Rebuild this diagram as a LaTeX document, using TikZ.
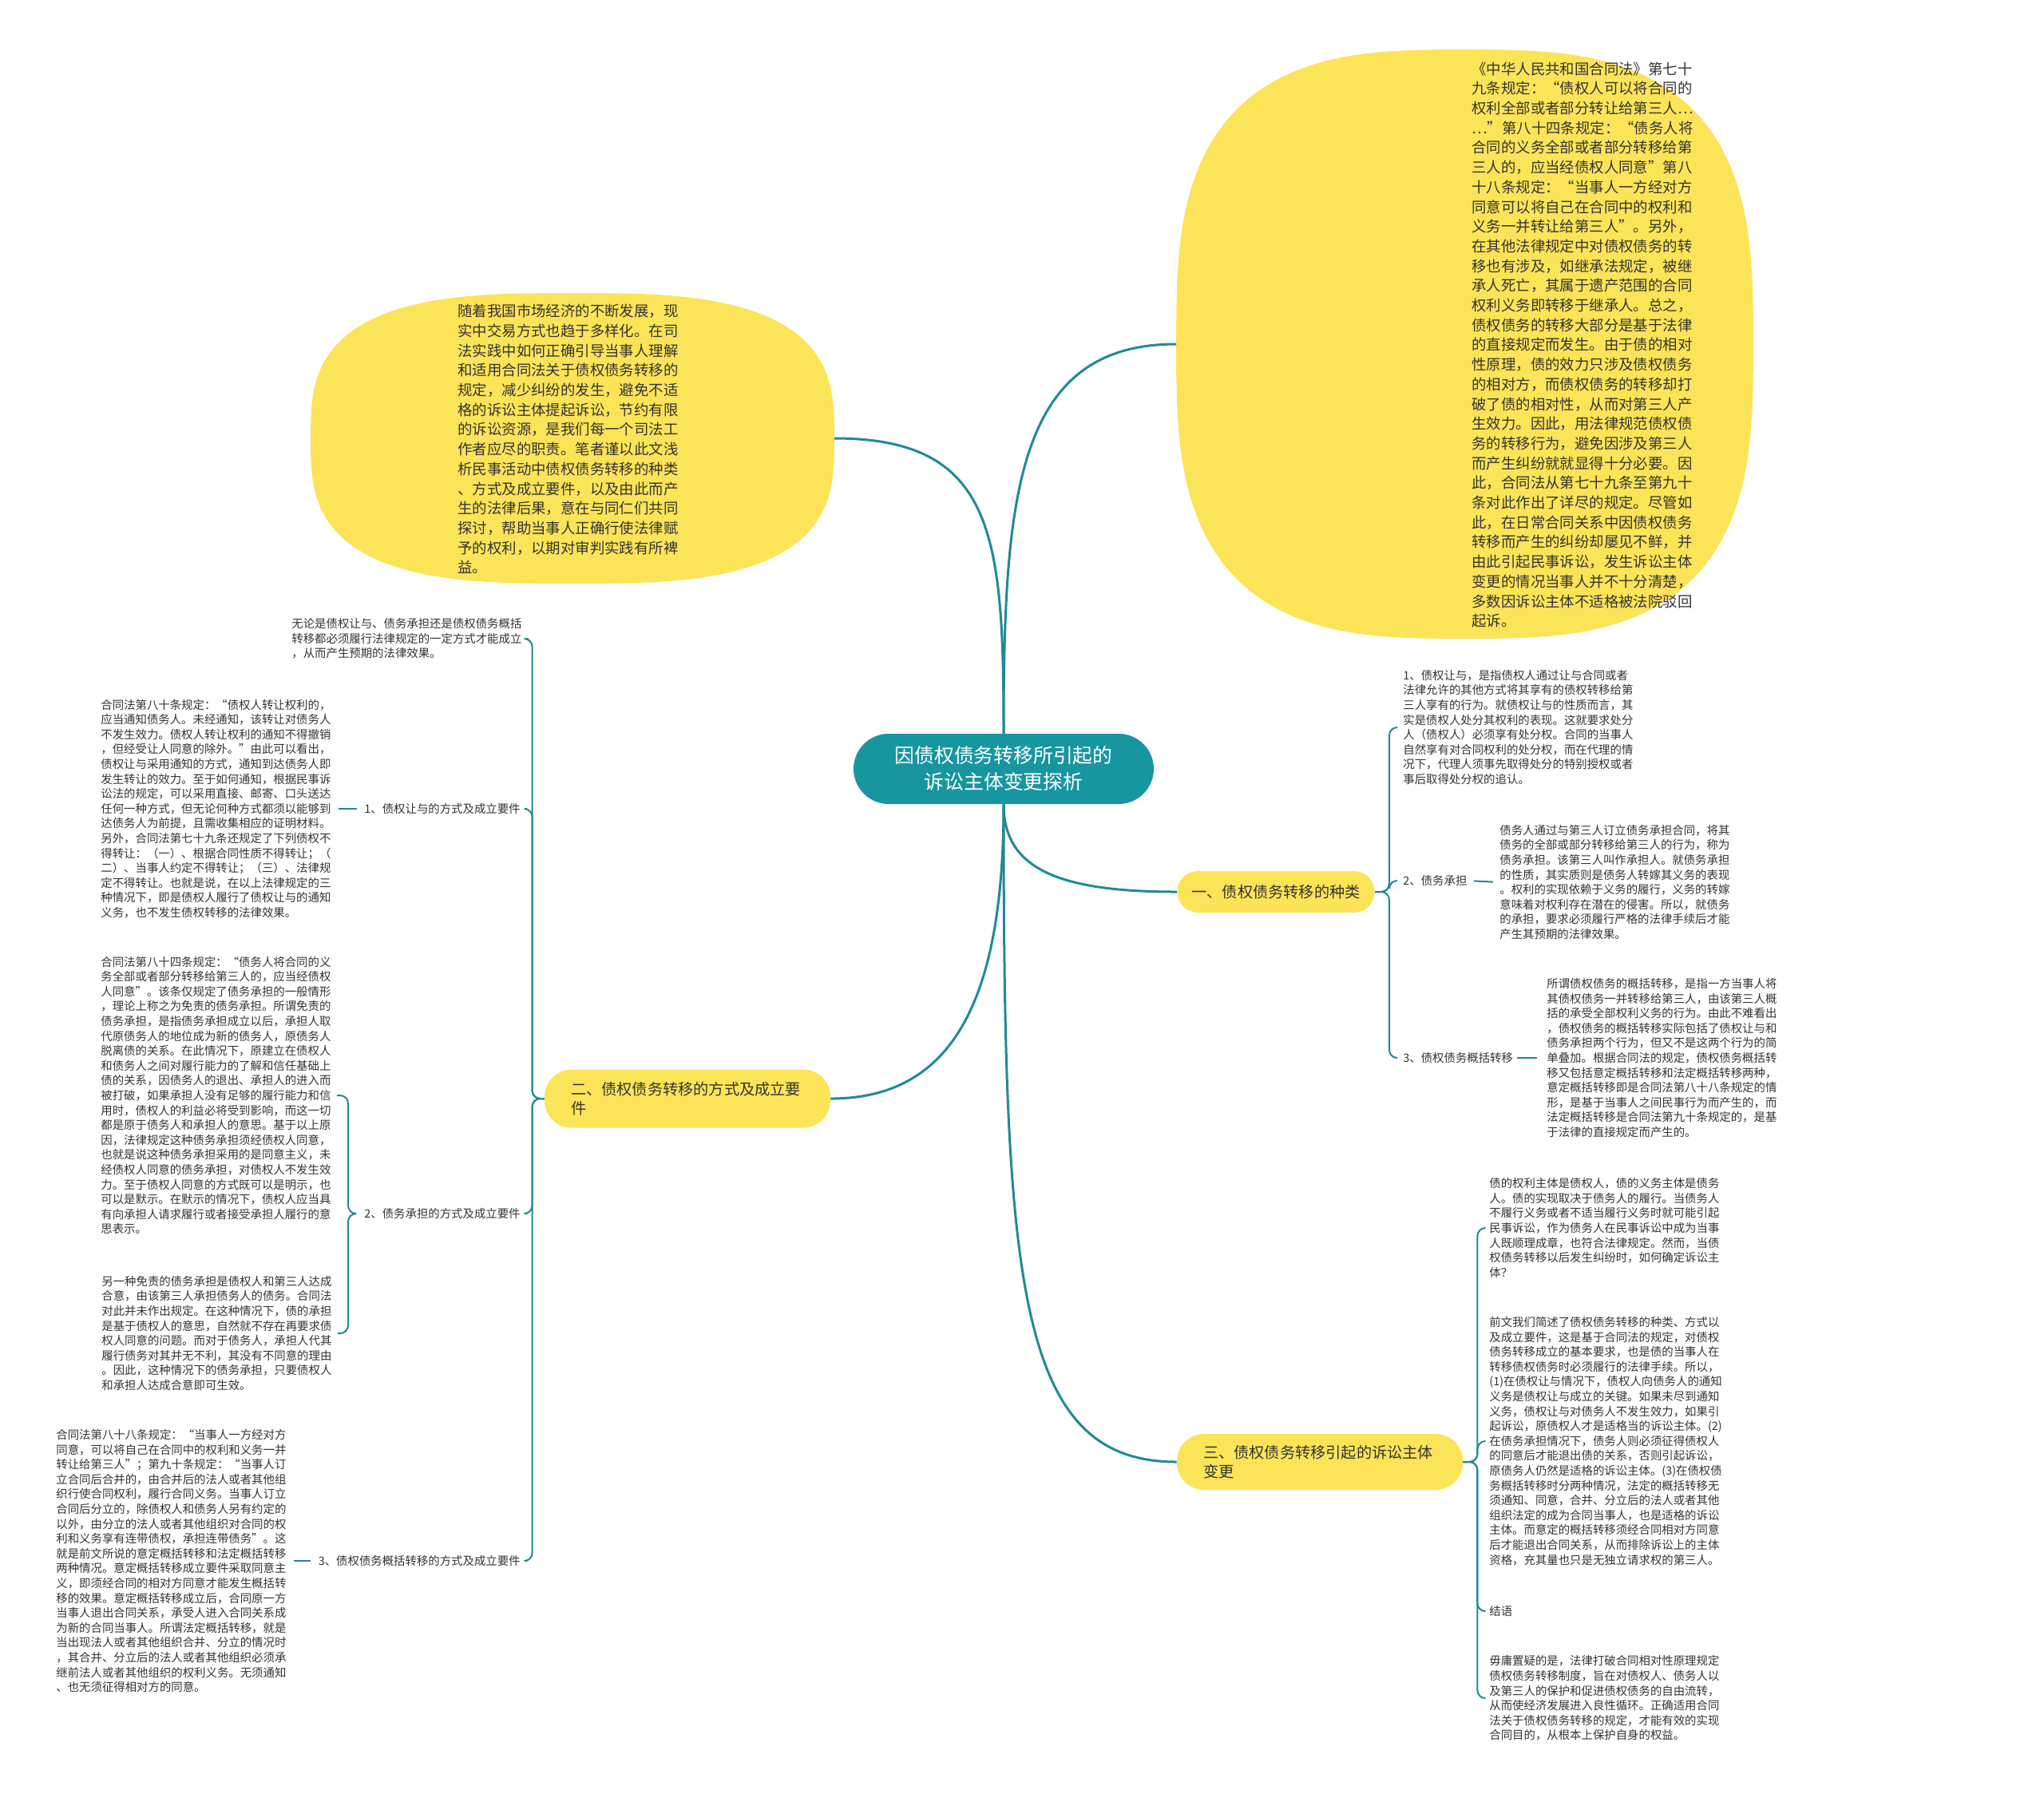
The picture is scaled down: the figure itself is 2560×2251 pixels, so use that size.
\documentclass[tikz,border=0pt]{standalone}
\usepackage{fontspec}
\setmainfont{Noto Sans CJK SC}
\definecolor{mapteal}{RGB}{24,150,160}
\definecolor{mapline}{RGB}{32,138,148}
\definecolor{mapyellow}{RGB}{252,228,88}
\definecolor{ink}{RGB}{51,51,51}
\tikzset{
  topic/.style={fill=mapteal, text=white, rounded corners=22pt, minimum width=188pt,
    minimum height=44pt, align=center, font=\fontsize{12.4}{16.5}\selectfont},
  branch/.style={fill=mapyellow, text=ink, rounded corners=13pt, inner xsep=9pt,
    minimum height=26pt, font=\fontsize{9.6}{12}\selectfont},
  bubble/.style={fill=mapyellow},
  bubbletext/.style={text=ink, align=left, inner sep=0pt, font=\fontsize{9.2}{12.35}\selectfont},
  leaf/.style={text=ink, align=left, inner sep=0pt, font=\fontsize{7.2}{9.3}\selectfont},
  mainlink/.style={draw=mapline, line width=1.5pt},
  twig/.style={draw=mapline, line width=1pt, rounded corners=5pt},
}
\begin{document}
\begin{tikzpicture}[x=0.5pt, y=-0.5pt]
  \fill[white] (0,0) rectangle (2560,2251);
  \useasboundingbox (0,0) rectangle (2560,2251);

  % the two bubbles
  \fill[bubble] plot[domain=0.5:360.5, samples=145]
    ({717+328*cos(\x)/(abs(cos(\x))^0.3333)}, {549+182*sin(\x)/(abs(sin(\x))^0.3333)}) -- cycle;
  \fill[bubble] plot[domain=0.5:360.5, samples=145]
    ({1834.5+361.5*cos(\x)/(abs(cos(\x))^0.3333)}, {431+369*sin(\x)/(abs(sin(\x))^0.3333)}) -- cycle;
  \coordinate (introedge) at (1045,549);
  \coordinate (lawedge) at (1473,431);

  \node[bubbletext, anchor=west] (intro) at (573,550) {随着我国市场经济的不断发展，现\\实中交易方式也趋于多样化。在司\\法实践中如何正确引导当事人理解\\和适用合同法关于债权债务转移的\\规定，减少纠纷的发生，避免不适\\格的诉讼主体提起诉讼，节约有限\\的诉讼资源，是我们每一个司法工\\作者应尽的职责。笔者谨以此文浅\\析民事活动中债权债务转移的种类\\、方式及成立要件，以及由此而产\\生的法律后果，意在与同仁们共同\\探讨，帮助当事人正确行使法律赋\\予的权利，以期对审判实践有所裨\\益。};
  \node[bubbletext, anchor=west] (law) at (1843,432) {《中华人民共和国合同法》第七十\\九条规定：“债权人可以将合同的\\权利全部或者部分转让给第三人…\\…”第八十四条规定：“债务人将\\合同的义务全部或者部分转移给第\\三人的，应当经债权人同意”第八\\十八条规定：“当事人一方经对方\\同意可以将自己在合同中的权利和\\义务一并转让给第三人”。另外，\\在其他法律规定中对债权债务的转\\移也有涉及，如继承法规定，被继\\承人死亡，其属于遗产范围的合同\\权利义务即转移于继承人。总之，\\债权债务的转移大部分是基于法律\\的直接规定而发生。由于债的相对\\性原理，债的效力只涉及债权债务\\的相对方，而债权债务的转移却打\\破了债的相对性，从而对第三人产\\生效力。因此，用法律规范债权债\\务的转移行为，避免因涉及第三人\\而产生纠纷就就显得十分必要。因\\此，合同法从第七十九条至第九十\\条对此作出了详尽的规定。尽管如\\此，在日常合同关系中因债权债务\\转移而产生的纠纷却屡见不鲜，并\\由此引起民事诉讼，发生诉讼主体\\变更的情况当事人并不十分清楚，\\多数因诉讼主体不适格被法院驳回\\起诉。};

  % centre and main branches
  \node[topic] (c) at (1257,963) {因债权债务转移所引起的\\诉讼主体变更探析};
  \node[branch] (b1) at (1598,1117) {一、债权债务转移的种类};
  \node[branch, rounded corners=17pt, minimum width=179pt, minimum height=36.5pt,
    text width=146pt, align=left] (b2) at (861,1376) {二、债权债务转移的方式及成立要\\件};
  \node[branch, rounded corners=17pt, minimum width=179pt, minimum height=35pt,
    text width=146pt, align=left] (b3) at (1653,1831) {三、债权债务转移引起的诉讼主体\\变更};

  \draw[mainlink] (c.north) .. controls +(0,-250) and +(200,0) .. (introedge);
  \draw[mainlink] (c.north) .. controls +(0,-300) and +(-200,0) .. (lawedge);
  \draw[mainlink] (c.south) .. controls +(0,80) and +(-150,0) .. (b1.west);
  \draw[mainlink] (c.south) .. controls +(0,250) and +(150,0) .. (b2.east);
  \draw[mainlink] (c.south) .. controls +(0,600) and +(-200,0) .. (b3.west);

  % left side
  \node[leaf, anchor=west] (lt) at (365,800) {无论是债权让与、债务承担还是债权债务概括\\转移都必须履行法律规定的一定方式才能成立\\，从而产生预期的法律效果。};
  \node[leaf, anchor=west] (l1) at (126,1013) {合同法第八十条规定：“债权人转让权利的，\\应当通知债务人。未经通知，该转让对债务人\\不发生效力。债权人转让权利的通知不得撤销\\，但经受让人同意的除外。”由此可以看出，\\债权让与采用通知的方式，通知到达债务人即\\发生转让的效力。至于如何通知，根据民事诉\\讼法的规定，可以采用直接、邮寄、口头送达\\任何一种方式，但无论何种方式都须以能够到\\达债务人为前提，且需收集相应的证明材料。\\另外，合同法第七十九条还规定了下列债权不\\得转让：（一）、根据合同性质不得转让；（\\二）、当事人约定不得转让；（三）、法律规\\定不得转让。也就是说，在以上法律规定的三\\种情况下，即是债权人履行了债权让与的通知\\义务，也不发生债权转移的法律效果。};
  \node[leaf, anchor=east] (l1lab) at (652,1013) {1、债权让与的方式及成立要件};
  \node[leaf, anchor=west] (l2a) at (126,1372) {合同法第八十四条规定：“债务人将合同的义\\务全部或者部分转移给第三人的，应当经债权\\人同意”。该条仅规定了债务承担的一般情形\\，理论上称之为免责的债务承担。所谓免责的\\债务承担，是指债务承担成立以后，承担人取\\代原债务人的地位成为新的债务人，原债务人\\脱离债的关系。在此情况下，原建立在债权人\\和债务人之间对履行能力的了解和信任基础上\\债的关系，因债务人的退出、承担人的进入而\\被打破，如果承担人没有足够的履行能力和信\\用时，债权人的利益必将受到影响，而这一切\\都是原于债务人和承担人的意思。基于以上原\\因，法律规定这种债务承担须经债权人同意，\\也就是说这种债务承担采用的是同意主义，未\\经债权人同意的债务承担，对债权人不发生效\\力。至于债权人同意的方式既可以是明示，也\\可以是默示。在默示的情况下，债权人应当具\\有向承担人请求履行或者接受承担人履行的意\\思表示。};
  \node[leaf, anchor=west] (l2b) at (127,1670) {另一种免责的债务承担是债权人和第三人达成\\合意，由该第三人承担债务人的债务。合同法\\对此并未作出规定。在这种情况下，债的承担\\是基于债权人的意思，自然就不存在再要求债\\权人同意的问题。而对于债务人，承担人代其\\履行债务对其并无不利，其没有不同意的理由\\。因此，这种情况下的债务承担，只要债权人\\和承担人达成合意即可生效。};
  \node[leaf, anchor=east] (l2lab) at (652,1520) {2、债务承担的方式及成立要件};
  \node[leaf, anchor=west] (l3) at (70,1955) {合同法第八十八条规定：“当事人一方经对方\\同意，可以将自己在合同中的权利和义务一并\\转让给第三人”；第九十条规定：“当事人订\\立合同后合并的，由合并后的法人或者其他组\\织行使合同权利，履行合同义务。当事人订立\\合同后分立的，除债权人和债务人另有约定的\\以外，由分立的法人或者其他组织对合同的权\\利和义务享有连带债权，承担连带债务”。这\\就是前文所说的意定概括转移和法定概括转移\\两种情况。意定概括转移成立要件采取同意主\\义，即须经合同的相对方同意才能发生概括转\\移的效果。意定概括转移成立后，合同原一方\\当事人退出合同关系，承受人进入合同关系成\\为新的合同当事人。所谓法定概括转移，就是\\当出现法人或者其他组织合并、分立的情况时\\，其合并、分立后的法人或者其他组织必须承\\继前法人或者其他组织的权利义务。无须通知\\、也无须征得相对方的同意。};
  \node[leaf, anchor=east] (l3lab) at (652,1955) {3、债权债务概括转移的方式及成立要件};

  \draw[twig, shorten >=4pt] (b2.west) -- ++(-15,0) |- (lt.east);
  \draw[twig, shorten >=4pt] (b2.west) -- ++(-15,0) |- (l1lab.east);
  \draw[twig, shorten >=4pt] (b2.west) -- ++(-15,0) |- (l2lab.east);
  \draw[twig, shorten >=4pt] (b2.west) -- ++(-15,0) |- (l3lab.east);
  \draw[twig, shorten <=4.5pt, shorten >=4.5pt] (l1.east) -- (l1lab.west);
  \draw[twig, shorten <=6pt, shorten >=3.5pt] (l2lab.west) -- ++(-20,0) |- (l2a.east);
  \draw[twig, shorten <=6pt, shorten >=3.5pt] (l2lab.west) -- ++(-20,0) |- (l2b.east);
  \draw[twig, shorten <=4.5pt, shorten >=4.5pt] (l3.east) -- (l3lab.west);

  % right side, first branch
  \node[leaf, anchor=west] (r1) at (1757,911) {1、债权让与，是指债权人通过让与合同或者\\法律允许的其他方式将其享有的债权转移给第\\三人享有的行为。就债权让与的性质而言，其\\实是债权人处分其权利的表现。这就要求处分\\人（债权人）必须享有处分权。合同的当事人\\自然享有对合同权利的处分权，而在代理的情\\况下，代理人须事先取得处分的特别授权或者\\事后取得处分权的追认。};
  \node[leaf, anchor=west] (r2lab) at (1757,1103) {2、债务承担};
  \node[leaf, anchor=west] (r2) at (1878,1105) {债务人通过与第三人订立债务承担合同，将其\\债务的全部或部分转移给第三人的行为，称为\\债务承担。该第三人叫作承担人。就债务承担\\的性质，其实质则是债务人转嫁其义务的表现\\。权利的实现依赖于义务的履行，义务的转嫁\\意味着对权利存在潜在的侵害。所以，就债务\\的承担，要求必须履行严格的法律手续后才能\\产生其预期的法律效果。};
  \node[leaf, anchor=west] (r3lab) at (1757,1325) {3、债权债务概括转移};
  \node[leaf, anchor=west] (r3) at (1937,1325) {所谓债权债务的概括转移，是指一方当事人将\\其债权债务一并转移给第三人，由该第三人概\\括的承受全部权利义务的行为。由此不难看出\\，债权债务的概括转移实际包括了债权让与和\\债务承担两个行为，但又不是这两个行为的简\\单叠加。根据合同法的规定，债权债务概括转\\移又包括意定概括转移和法定概括转移两种，\\意定概括转移即是合同法第八十八条规定的情\\形，是基于当事人之间民事行为而产生的，而\\法定概括转移是合同法第九十条规定的，是基\\于法律的直接规定而产生的。};

  \draw[twig, shorten >=4pt] (b1.east) -- ++(18,0) |- (r1.west);
  \draw[twig, shorten >=4pt] (b1.east) -- ++(18,0) |- (r2lab.west);
  \draw[twig, shorten >=4pt] (b1.east) -- ++(18,0) |- (r3lab.west);
  \draw[twig, shorten <=4pt, shorten >=4pt] (r2lab.east) -- (r2.west);
  \draw[twig, shorten <=2.5pt, shorten >=6pt] (r3lab.east) -- (r3.west);

  % right side, third branch
  \node[leaf, anchor=west] (s1) at (1865,1538) {债的权利主体是债权人，债的义务主体是债务\\人。债的实现取决于债务人的履行。当债务人\\不履行义务或者不适当履行义务时就可能引起\\民事诉讼，作为债务人在民事诉讼中成为当事\\人既顺理成章，也符合法律规定。然而，当债\\权债务转移以后发生纠纷时，如何确定诉讼主\\体？};
  \node[leaf, anchor=west] (s2) at (1865,1805) {前文我们简述了债权债务转移的种类、方式以\\及成立要件，这是基于合同法的规定，对债权\\债务转移成立的基本要求，也是债的当事人在\\转移债权债务时必须履行的法律手续。所以，\\(1)在债权让与情况下，债权人向债务人的通知\\义务是债权让与成立的关键。如果未尽到通知\\义务，债权让与对债务人不发生效力，如果引\\起诉讼，原债权人才是适格当的诉讼主体。(2)\\在债务承担情况下，债务人则必须征得债权人\\的同意后才能退出债的关系，否则引起诉讼，\\原债务人仍然是适格的诉讼主体。(3)在债权债\\务概括转移时分两种情况，法定的概括转移无\\须通知、同意，合并、分立后的法人或者其他\\组织法定的成为合同当事人，也是适格的诉讼\\主体。而意定的概括转移须经合同相对方同意\\后才能退出合同关系，从而排除诉讼上的主体\\资格，充其量也只是无独立请求权的第三人。};
  \node[leaf, anchor=west] (s3) at (1865,2018) {结语};
  \node[leaf, anchor=west] (s4) at (1865,2127) {毋庸置疑的是，法律打破合同相对性原理规定\\债权债务转移制度，旨在对债权人、债务人以\\及第三人的保护和促进债权债务的自由流转，\\从而使经济发展进入良性循环。正确适用合同\\法关于债权债务转移的规定，才能有效的实现\\合同目的，从根本上保护自身的权益。};

  \draw[twig, shorten >=3pt] (b3.east) -- ++(18,0) |- (s1.west);
  \draw[twig, shorten >=3pt] (b3.east) -- ++(18,0) |- (s2.west);
  \draw[twig, shorten >=3pt] (b3.east) -- ++(18,0) |- (s3.west);
  \draw[twig, shorten >=3pt] (b3.east) -- ++(18,0) |- (s4.west);
\end{tikzpicture}
\end{document}
